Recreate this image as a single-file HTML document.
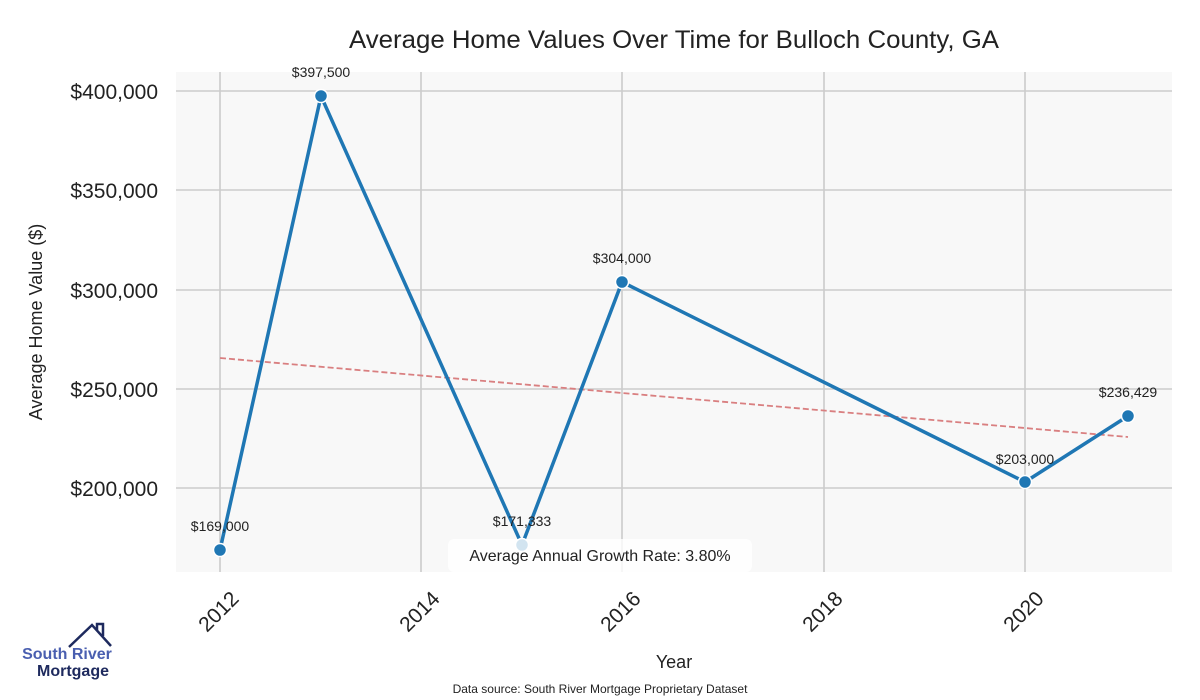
<!DOCTYPE html>
<html><head><meta charset="utf-8"><style>
body{margin:0;background:#fff;}
svg{display:block;font-family:"Liberation Sans",sans-serif;}
</style></head><body>
<svg width="1200" height="700" viewBox="0 0 1200 700">
<rect width="1200" height="700" fill="#fff"/>
<rect x="176" y="72" width="996" height="500" fill="#f8f8f8"/>
<g stroke="#cccccc" stroke-width="1.6">
<line x1="220" y1="72" x2="220" y2="572"/><line x1="421" y1="72" x2="421" y2="572"/>
<line x1="622" y1="72" x2="622" y2="572"/><line x1="824" y1="72" x2="824" y2="572"/>
<line x1="1025" y1="72" x2="1025" y2="572"/>
<line x1="176" y1="91" x2="1172" y2="91"/><line x1="176" y1="190" x2="1172" y2="190"/>
<line x1="176" y1="290" x2="1172" y2="290"/><line x1="176" y1="389" x2="1172" y2="389"/>
<line x1="176" y1="488" x2="1172" y2="488"/>
</g>
<line x1="220" y1="358" x2="1128" y2="437" stroke="#d97f80" stroke-width="1.8" stroke-dasharray="6,3"/>
<polyline points="220,550 321,96 522,545 622,282 1025,482 1128,416" fill="none" stroke="#1f77b4" stroke-width="3.5" stroke-linejoin="round"/>
<g fill="#1f77b4" stroke="#fff" stroke-width="1.5">
<circle cx="220" cy="550" r="6.5"/><circle cx="321" cy="96" r="6.5"/><circle cx="522" cy="545" r="6.5"/>
<circle cx="622" cy="282" r="6.5"/><circle cx="1025" cy="482" r="6.5"/><circle cx="1128" cy="416" r="6.5"/>
</g>
<g font-size="14" fill="#222" text-anchor="middle">
<text x="220" y="531">$169,000</text><text x="321" y="77">$397,500</text>
<text x="522" y="526">$171,333</text><text x="622" y="263">$304,000</text>
<text x="1025" y="464">$203,000</text><text x="1128" y="397">$236,429</text>
</g>
<rect x="448" y="539" width="304" height="33" rx="6" fill="#fff" fill-opacity="0.8"/>
<text x="600" y="561" font-size="16" fill="#222" text-anchor="middle">Average Annual Growth Rate: 3.80%</text>
<g font-size="21" fill="#222" text-anchor="end">
<text x="158" y="99">$400,000</text><text x="158" y="198">$350,000</text>
<text x="158" y="298">$300,000</text><text x="158" y="397">$250,000</text>
<text x="158" y="496">$200,000</text>
</g>
<g font-size="21" fill="#222" text-anchor="end">
<text transform="translate(240,600) rotate(-45)">2012</text>
<text transform="translate(441,600) rotate(-45)">2014</text>
<text transform="translate(642,600) rotate(-45)">2016</text>
<text transform="translate(844,600) rotate(-45)">2018</text>
<text transform="translate(1045,600) rotate(-45)">2020</text>
</g>
<text x="674" y="668" font-size="18" fill="#222" text-anchor="middle">Year</text>
<text transform="translate(42,322) rotate(-90)" font-size="18" fill="#222" text-anchor="middle">Average Home Value ($)</text>
<text x="674" y="48" font-size="25" fill="#222" text-anchor="middle" textLength="650" lengthAdjust="spacingAndGlyphs">Average Home Values Over Time for Bulloch County, GA</text>
<text x="600" y="693" font-size="12" fill="#222" text-anchor="middle">Data source: South River Mortgage Proprietary Dataset</text>
<polyline points="69,647 92,625 111,646" fill="none" stroke="#1e2a5e" stroke-width="2.5"/>
<polyline points="97,630 97,624 103,624 103,636" fill="none" stroke="#1e2a5e" stroke-width="2.5"/>
<text x="67" y="659" font-size="16" fill="#4a5fb0" text-anchor="middle" font-weight="bold">South River</text>
<text x="73" y="676" font-size="16" fill="#1e2a5e" text-anchor="middle" font-weight="bold">Mortgage</text>
</svg>
</body></html>
